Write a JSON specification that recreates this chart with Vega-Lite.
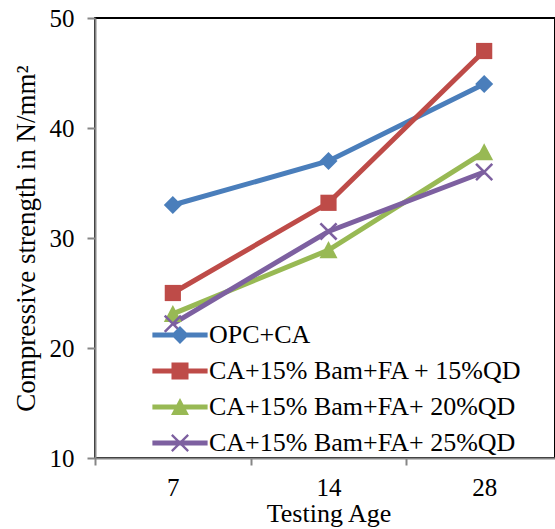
{
  "$schema": "https://vega.github.io/schema/vega-lite/v6.json",
  "width": 460,
  "height": 440,
  "autosize": {"type": "none"},
  "padding": {"left": 95, "top": 18, "right": 0, "bottom": 71},
  "background": "white",
  "config": {
    "font": "Liberation Serif",
    "view": {"stroke": "black", "strokeWidth": 2},
    "legend": {"labelFont": "Liberation Serif", "labelFontSize": 26, "labelColor": "black"},
    "axis": {
      "domainColor": "#868686", "domainWidth": 2,
      "tickColor": "#868686", "tickWidth": 2,
      "labelColor": "black", "titleColor": "black",
      "labelFont": "Liberation Serif", "titleFont": "Liberation Serif",
      "titleFontWeight": "normal", "grid": false
    }
  },
  "data": {"values": [
    {"series": "OPC+CA", "age": 7, "strength": 33},
    {"series": "OPC+CA", "age": 14, "strength": 37},
    {"series": "OPC+CA", "age": 28, "strength": 44},
    {"series": "CA+15% Bam+FA + 15%QD", "age": 7, "strength": 25},
    {"series": "CA+15% Bam+FA + 15%QD", "age": 14, "strength": 33.2},
    {"series": "CA+15% Bam+FA + 15%QD", "age": 28, "strength": 47},
    {"series": "CA+15% Bam+FA+ 20%QD", "age": 7, "strength": 23.1},
    {"series": "CA+15% Bam+FA+ 20%QD", "age": 14, "strength": 28.9},
    {"series": "CA+15% Bam+FA+ 20%QD", "age": 28, "strength": 37.8},
    {"series": "CA+15% Bam+FA+ 25%QD", "age": 7, "strength": 22.2},
    {"series": "CA+15% Bam+FA+ 25%QD", "age": 14, "strength": 30.6},
    {"series": "CA+15% Bam+FA+ 25%QD", "age": 28, "strength": 36}
  ]},
  "encoding": {
    "x": {
      "field": "age", "type": "ordinal",
      "scale": {"type": "band", "paddingInner": 0, "paddingOuter": 0, "range": [0, 467]},
      "axis": {"title": "Testing Age", "labelAngle": 0, "tickBand": "extent", "tickSize": 7,
               "labelFontSize": 25, "labelPadding": 10, "titleFontSize": 26, "titlePadding": 0}
    },
    "y": {
      "field": "strength", "type": "quantitative",
      "scale": {"domain": [10, 50], "nice": false, "zero": false},
      "axis": {"title": "Compressive strength in N/mm²", "values": [10, 20, 30, 40, 50],
               "tickSize": 8, "labelFontSize": 25, "labelPadding": 13,
               "titleFontSize": 27, "titlePadding": 9}
    }
  },
  "resolve": {"scale": {"color": "independent", "shape": "independent"}},
  "layer": [
    {
      "mark": {"type": "line", "strokeWidth": 5, "opacity": 1},
      "encoding": {
        "color": {"field": "series", "type": "nominal", "legend": null,
          "scale": {"domain": ["OPC+CA", "CA+15% Bam+FA + 15%QD", "CA+15% Bam+FA+ 20%QD", "CA+15% Bam+FA+ 25%QD"],
                    "range": ["#4A7EBB", "#BE4B48", "#98B954", "#7D60A0"]}}
      }
    },
    {
      "mark": {"type": "point", "filled": true, "opacity": 1, "size": 324},
      "encoding": {
        "color": {"field": "series", "type": "nominal", "legend": null,
          "scale": {"domain": ["OPC+CA", "CA+15% Bam+FA + 15%QD", "CA+15% Bam+FA+ 20%QD", "CA+15% Bam+FA+ 25%QD"],
                    "range": ["#4A7EBB", "#BE4B48", "#98B954", "#7D60A0"]}},
        "shape": {"field": "series", "type": "nominal", "legend": null,
          "scale": {"domain": ["OPC+CA", "CA+15% Bam+FA + 15%QD", "CA+15% Bam+FA+ 20%QD", "CA+15% Bam+FA+ 25%QD"],
                    "range": ["M-1,0L0,-1L1,0L0,1Z", "M-0.9,-0.9H0.9V0.9H-0.9Z", "M0,-1L1,0.9L-1,0.9Z",
                              "M-1,-0.8L-0.8,-1L1,0.8L0.8,1Z M-1,0.8L0.8,-1L1,-0.8L-0.8,1Z"]}}
      }
    },
    {
      "transform": [{"filter": "datum.age < 0"}],
      "mark": {"type": "point", "filled": true, "opacity": 1},
      "encoding": {
        "color": {"field": "series", "type": "nominal",
          "scale": {"domain": ["OPC+CA", "CA+15% Bam+FA + 15%QD", "CA+15% Bam+FA+ 20%QD", "CA+15% Bam+FA+ 25%QD"],
                    "range": ["#4A7EBB", "#BE4B48", "#98B954", "#7D60A0"]},
          "legend": {"title": null, "orient": "none", "legendX": 62, "legendY": 294,
                     "symbolSize": 2116, "rowPadding": 0, "labelOffset": 6,
                     "labelFontSize": 26, "labelFont": "Liberation Serif", "labelColor": "black",
                     "symbolOpacity": 1, "symbolStrokeWidth": 0, "labelLimit": 400}},
        "shape": {"field": "series", "type": "nominal",
          "scale": {"domain": ["OPC+CA", "CA+15% Bam+FA + 15%QD", "CA+15% Bam+FA+ 20%QD", "CA+15% Bam+FA+ 25%QD"],
                    "range": ["M-1.2,-0.11H1.2V0.11H-1.2Z M-0.39,0L0,-0.39L0.39,0L0,0.39Z",
                              "M-1.2,-0.11H1.2V0.11H-1.2Z M-0.37,-0.37H0.37V0.37H-0.37Z",
                              "M-1.2,-0.11H1.2V0.11H-1.2Z M0,-0.39L0.39,0.35L-0.39,0.35Z",
                              "M-1.2,-0.11H1.2V0.11H-1.2Z M-0.39,-0.32L-0.32,-0.39L0.39,0.32L0.32,0.39Z M-0.39,0.32L0.32,-0.39L0.39,-0.32L-0.32,0.39Z"]},
          "legend": {"title": null, "orient": "none", "legendX": 62, "legendY": 294,
                     "symbolSize": 2116, "rowPadding": 0, "labelOffset": 6,
                     "labelFontSize": 26, "labelFont": "Liberation Serif", "labelColor": "black",
                     "symbolOpacity": 1, "symbolStrokeWidth": 0, "labelLimit": 400}}
      }
    }
  ]
}
